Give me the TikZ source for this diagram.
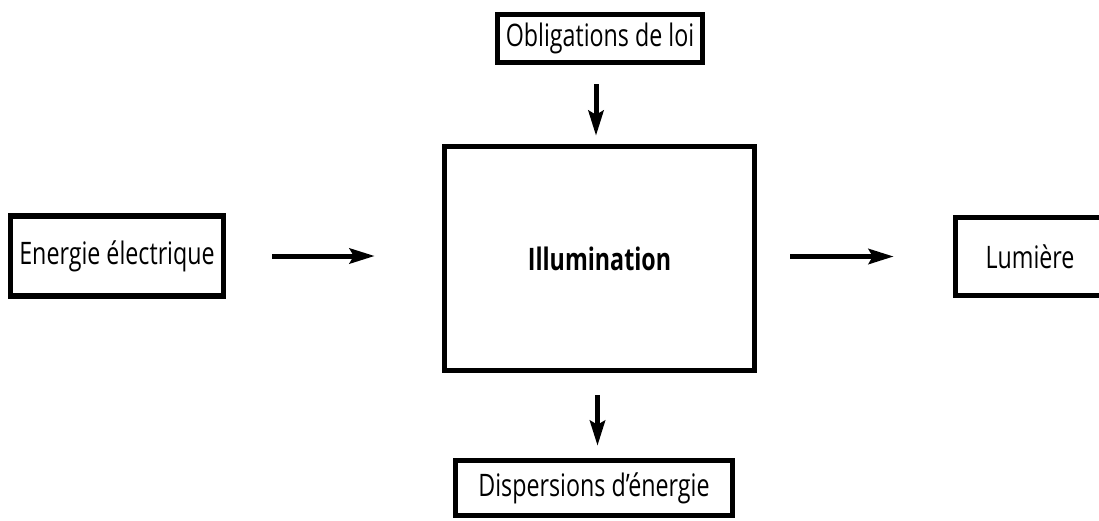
\documentclass[tikz,border=0pt]{standalone}
\usepackage{fontspec}
\setmainfont{Open Sans}[FakeStretch=0.75]
\usetikzlibrary{arrows.meta}
\begin{document}
\begin{tikzpicture}[x=1pt,y=-1pt,
  box/.style={draw=black,line width=5.5pt,inner sep=0pt,font=\fontsize{31}{36}\selectfont},
  arr/.style={line width=5pt,-{Stealth[length=25pt,width=15pt,inset=4pt]}}]
  \clip (0,0) rectangle (1099,520);
  \fill[white] (0,0) rectangle (1099,520);
  % blocks
  \node[box,minimum width=213pt,minimum height=80pt] (src) at (117,256) {Energie électrique};
  \node[box,minimum width=205pt,minimum height=48pt] (law) at (600,38.5) {Obligations de loi};
  \node[box,minimum width=310pt,minimum height=224pt,font=\fontsize{31}{36}\selectfont\bfseries] (main) at (599.5,258.5) {Illumination};
  \node[box,minimum width=277pt,minimum height=55pt] (loss) at (594,488) {Dispersions d’énergie};
  \node[box,minimum width=149pt,minimum height=78pt] (out) at (1030,256.5) {Lumière};
  % flows
  \draw[arr,shorten <=46pt,shorten >=67pt] (src.east) -- (src.east -| main.west);
  \draw[arr,shorten <=33pt,shorten >=59pt] (main.east |- out.west) -- (out.west);
  \draw[arr,shorten <=19pt,shorten >=8pt] ([xshift=-4pt]law.south) -- ([xshift=-4pt]law.south |- main.north);
  \draw[arr,shorten <=22pt,shorten >=12pt] ([xshift=-2pt]main.south) -- ([xshift=-2pt]main.south |- loss.north);
\end{tikzpicture}
\end{document}
